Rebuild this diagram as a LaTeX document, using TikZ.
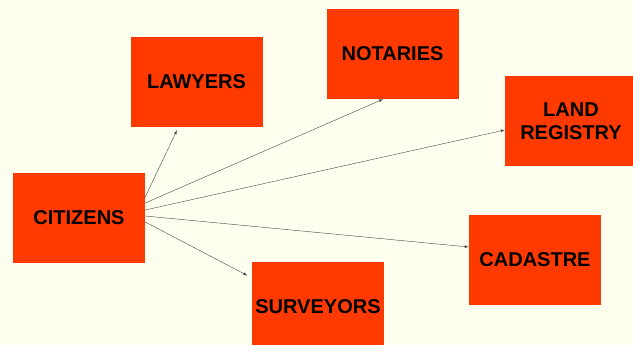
\documentclass[tikz,border=0pt]{standalone}
\usepackage{fontspec}
\setmainfont{Liberation Sans}
\usepackage{xcolor}
\usetikzlibrary{calc}
\definecolor{paper}{RGB}{255,255,240}
\definecolor{boxred}{RGB}{255,58,0}
\definecolor{linegray}{RGB}{70,70,70}

\begin{document}
\begin{tikzpicture}[x=1pt,y=-1pt,
	box/.style={fill=boxred,minimum width=132pt,minimum height=90pt,inner sep=0pt,align=center,font=\bfseries\fontsize{20}{23}\selectfont},
	link/.style={-latex,thin,linegray}]
	\useasboundingbox (0,0) rectangle (633,345);
	\clip (0,0) rectangle (633,345);
	\fill[paper] (0,0) rectangle (633,345);
	\node[box] (citizens) at (79,218) {CITIZENS};
	\node[box] (lawyers) at (196.5,82) {LAWYERS};
	\node[box] (notaries) at (392.5,54) {NOTARIES};
	\node[box] (registry) at (571,121) {LAND\\REGISTRY};
	\node[box] (cadastre) at (535,260) {CADASTRE};
	\node[box] (surveyors) at (318,307) {SURVEYORS};
	\draw[link] ([yshift=21pt]citizens.east) -- ([xshift=-19.5pt,yshift=-3pt]lawyers.south);
	\draw[link] ([yshift=15pt]citizens.east) -- ([xshift=-9.5pt]notaries.south);
	\draw[link] ([yshift=8pt]citizens.east) -- ([yshift=-9pt]registry.west);
	\draw[link] ([yshift=2pt]citizens.east) -- ([yshift=13pt]cadastre.west);
	\draw[link,shorten >=5pt] ([yshift=-4pt]citizens.east) -- ([yshift=-16pt]surveyors.north west);
\end{tikzpicture}
\end{document}
